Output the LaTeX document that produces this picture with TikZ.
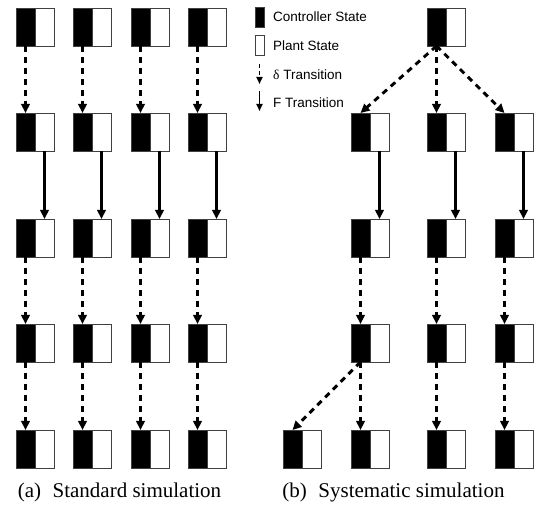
\documentclass[tikz,border=0pt]{standalone}
\usepackage{fontspec}
\setmainfont{Liberation Serif}
\setsansfont{Liberation Sans}
\usetikzlibrary{arrows.meta, positioning, calc}

% one state = controller half (black) + plant half (white)
\newcommand{\statebox}[3]{% name, left x, top y
    \node[ctrl] (#1-c) at ({#2+9.5},{#3+19}) {};
    \node[plant] (#1-p) at ({#2+28.5},{#3+19}) {};
}

\begin{document}
\begin{tikzpicture}[x=1pt, y=-1pt, font=\sffamily\fontsize{13.5}{16}\selectfont]

    \tikzset{
        ctrl/.style={draw=black!75, fill=black, line width=0.8pt,
            minimum width=19pt, minimum height=38pt, inner sep=0pt, outer sep=0pt},
        plant/.style={ctrl, fill=white},
        delta/.style={-{Triangle[width=8.5pt,length=9pt]}, line width=2.9pt,
            dash pattern=on 6pt off 5pt},
        ftrans/.style={-{Triangle[width=8.5pt,length=9pt]}, line width=2.9pt},
        legbox/.style={draw=black!75, line width=0.8pt,
            minimum width=9pt, minimum height=20pt, inner sep=0pt},
        legtext/.style={anchor=west, inner sep=0pt},
        caption/.style={anchor=base, inner sep=0pt, font=\rmfamily\fontsize{21}{25}\selectfont}
    }
    \useasboundingbox (0,0) rectangle (542,508);

    % ==========================================
    % (a) Standard simulation (left grid)
    % ==========================================
    \foreach \col/\xx in {1/16, 2/73, 3/131, 4/188} {
        \foreach \row/\yy in {1/8, 2/113, 3/219, 4/324, 5/430} {
            \statebox{a\row\col}{\xx}{\yy}
        }
        \draw[delta] (a1\col-c.south) -- (a2\col-c.north);
        \draw[ftrans] (a2\col-p.south) -- (a3\col-p.north);
        \draw[delta] (a3\col-c.south) -- (a4\col-c.north);
        \draw[delta] (a4\col-c.south) -- (a5\col-c.north);
    }

    % ==========================================
    % (b) Systematic simulation (right tree)
    % ==========================================
    \statebox{bt}{427}{8}
    \statebox{b2a}{351}{113}
    \statebox{b2b}{427}{113}
    \statebox{b2c}{495}{113}
    \statebox{b3a}{351}{219}
    \statebox{b3b}{427}{219}
    \statebox{b3c}{495}{219}
    \statebox{b4a}{351}{324}
    \statebox{b4b}{427}{324}
    \statebox{b4c}{495}{324}
    \statebox{b5o}{283}{430}
    \statebox{b5a}{351}{430}
    \statebox{b5b}{427}{430}
    \statebox{b5c}{495}{430}

    % branching from the top state
    \draw[delta] (bt-c.south) -- (b2a-c.north);
    \draw[delta] (bt-c.south) -- (b2b-c.north);
    \draw[delta] (bt-c.south) -- (b2c-c.north);

    % plant steps
    \draw[ftrans] (b2a-p.south) -- (b3a-p.north);
    \draw[ftrans] (b2b-p.south) -- (b3b-p.north);
    \draw[ftrans] (b2c-p.south) -- (b3c-p.north);

    % controller steps
    \draw[delta] (b3a-c.south) -- (b4a-c.north);
    \draw[delta] (b3b-c.south) -- (b4b-c.north);
    \draw[delta] (b3c-c.south) -- (b4c-c.north);
    \draw[delta] (b4a-c.south) -- (b5o-c.north);
    \draw[delta] (b4a-c.south) -- (b5a-c.north);
    \draw[delta] (b4b-c.south) -- (b5b-c.north);
    \draw[delta] (b4c-c.south) -- (b5c-c.north);

    % ==========================================
    % Legend
    % ==========================================
    \node[legbox, fill=black] (legc) at (259.5, 17) {};
    \node[legbox, fill=white] (legp) at (259.5, 45.5) {};
    \coordinate (legd1) at (259.5, 64);
    \coordinate (legd2) at (259.5, 84);
    \coordinate (legf1) at (259.5, 91);
    \coordinate (legf2) at (259.5, 111);
    \draw[-{Triangle[width=6pt,length=7pt]}, line width=1.6pt,
        dash pattern=on 4pt off 3pt] (legd1) -- (legd2);
    \draw[-{Triangle[width=6pt,length=7pt]}, line width=1.6pt] (legf1) -- (legf2);

    \node[legtext] (legct) at (273, 17) {Controller State};
    \node[legtext] (legpt) at (273, 46) {Plant State};
    \node[legtext] (legdt) at (273, 75) {{\rmfamily δ} Transition};
    \node[legtext] (legft) at (273, 103) {F Transition};

    % Captions
    \node[caption] (capa) at (119.5, 497) {(a)\hspace{0.3em} Standard simulation};
    \node[caption] (capb) at (393.5, 497) {(b)\hspace{0.3em} Systematic simulation};

\end{tikzpicture}
\end{document}
